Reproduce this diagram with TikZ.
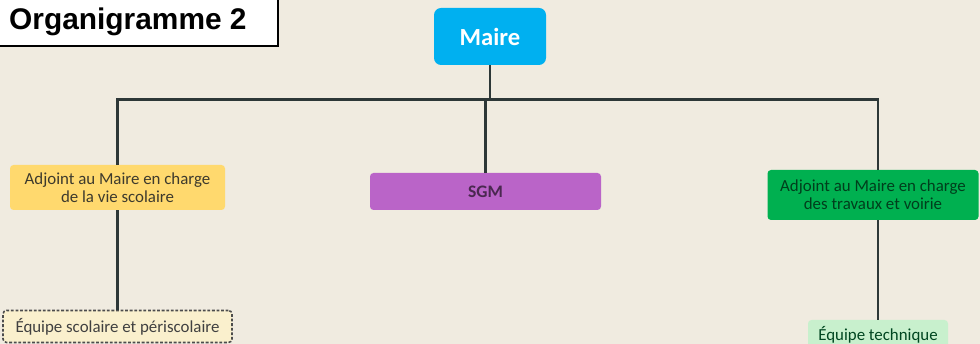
\documentclass[tikz,border=0pt]{standalone}
\usepackage{fontspec}
\setmainfont{Carlito}
\newfontfamily\titlefont{Liberation Sans}
\usepackage{tikz}
\definecolor{paper}{RGB}{240,235,224}
\definecolor{mairblue}{RGB}{0,176,240}
\definecolor{scoyellow}{RGB}{255,217,110}
\definecolor{sgmpurple}{RGB}{186,100,200}
\definecolor{travgreen}{RGB}{0,176,80}
\definecolor{equipbeige}{RGB}{250,240,205}
\definecolor{equipgreen}{RGB}{200,240,205}
\definecolor{linkgray}{RGB}{45,55,55}

\begin{document}
\begin{tikzpicture}[
    box/.style={rectangle, rounded corners=2pt, align=center, inner sep=1pt, font=\fontsize{9.6}{10}\selectfont},
    link/.style={draw=linkgray, line width=1.5pt}
  ]
  \useasboundingbox (0,0) rectangle (19.6,6.88);
  \clip (0,0) rectangle (19.6,6.88);
  \fill[paper] (0,0) rectangle (19.6,6.88);
  % title
  \draw[fill=white, line width=0.8pt] (-0.2,5.96) rectangle (5.56,7.1);
  \node[anchor=west, font=\titlefont\bfseries\fontsize{17}{17}\selectfont] (title) at (0.06,6.44) {Organigramme 2};
  % boxes
  \node[box, fill=mairblue, rounded corners=4pt, minimum width=2.24cm, minimum height=1.14cm,
        text=white, font=\bfseries\fontsize{14}{14}\selectfont] (maire) at (9.8,6.15) {Maire};
  \node[box, fill=scoyellow, text=black!75!olive, minimum width=4.3cm, minimum height=0.9cm] (vsco) at (2.35,3.13)
    {Adjoint au Maire en charge\\de la vie scolaire};
  \node[box, fill=sgmpurple, text=black!60!sgmpurple, minimum width=4.62cm, minimum height=0.74cm,
        font=\bfseries\fontsize{10}{10}\selectfont] (sgm) at (9.71,3.05) {SGM};
  \node[box, fill=travgreen, text=black!65!travgreen, minimum width=4.22cm, minimum height=1.0cm] (trav) at (17.46,2.98)
    {Adjoint au Maire en charge\\des travaux et voirie};
  \node[box, fill=equipbeige, draw=black!70, line width=0.9pt, dash pattern=on 1.6pt off 1pt,
        text=black!75, minimum width=4.58cm, minimum height=0.64cm] (esco) at (2.35,0.35)
    {Équipe scolaire et périscolaire};
  \node[box, fill=equipgreen, text=black!60!travgreen, minimum width=2.8cm, minimum height=0.6cm] (etech) at (17.56,0.18)
    {Équipe technique};
  % connectors
  \draw[link] (maire.south) -- ++(0,-0.68) coordinate (bus);
  \draw[link] (bus) -| (vsco.north);
  \draw[link] (bus) -| (etech.north |- trav.north);
  \draw[link] (bus -| sgm.north) -- (sgm.north);
  \draw[link] (vsco.south) -- (esco.north);
  \draw[link] (etech.north |- trav.south) -- (etech.north);
\end{tikzpicture}
\end{document}
